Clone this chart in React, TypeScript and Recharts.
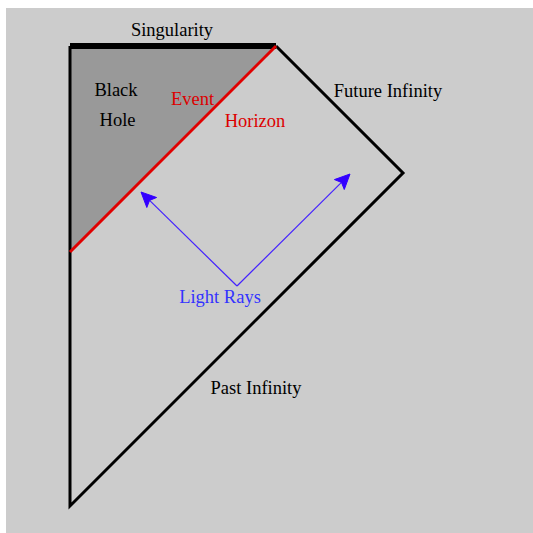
import React from 'react';
import { ComposedChart, Area, Line, XAxis, YAxis, ReferenceLine, ReferenceDot } from 'recharts';

// diagram units: origin at the bottom corner, y grows upward
const outline = [
  { x: 0, y: 46 },
  { x: 0, y: 0 },
  { x: 33.3, y: 33.3 },
  { x: 20.6, y: 46 },
];
const singularity = [{ x: 0, y: 46 }, { x: 20.6, y: 46 }];
const horizon = [{ x: 20.6, y: 46 }, { x: 0, y: 25.4 }];
const blackHole = [
  { x: 0, lo: 25.4, hi: 46 },
  { x: 20.6, lo: 46, hi: 46 },
];
const lightRays = [
  { from: { x: 16.7, y: 22.0 }, to: { x: 7.1, y: 31.4 } },
  { from: { x: 16.7, y: 22.0 }, to: { x: 28.0, y: 33.2 } },
];
const labels = [
  { text: 'Singularity', x: 10.2, y: 47.66, color: '#000000' },
  { text: 'Black', x: 4.6, y: 41.66, color: '#000000' },
  { text: 'Hole', x: 4.75, y: 38.66, color: '#000000' },
  { text: 'Event', x: 12.25, y: 40.73, color: '#dd0000' },
  { text: 'Horizon', x: 18.5, y: 38.53, color: '#dd0000' },
  { text: 'Future Infinity', x: 31.8, y: 41.6, color: '#000000' },
  { text: 'Light Rays', x: 15.0, y: 20.93, color: '#3333ff' },
  { text: 'Past Infinity', x: 18.6, y: 11.82, color: '#000000' },
];

const FONT = '"Liberation Serif", "Times New Roman", serif';
const RAY = '#3300ff';

// line with a filled arrowhead at its end
const Arrow = (props: any) => {
  const { x1, y1, x2, y2 } = props;
  const dx = x2 - x1;
  const dy = y2 - y1;
  const len = Math.sqrt(dx * dx + dy * dy) || 1;
  const ux = dx / len;
  const uy = dy / len;
  const L = 15;
  const W = 7;
  const N = 12;
  const bx = x2 - ux * L;
  const by = y2 - uy * L;
  const nx = x2 - ux * N;
  const ny = y2 - uy * N;
  const pts = [
    `${x2},${y2}`,
    `${bx - uy * W},${by + ux * W}`,
    `${nx},${ny}`,
    `${bx + uy * W},${by - ux * W}`,
  ].join(' ');
  return (
    <g>
      <line x1={x1} y1={y1} x2={nx} y2={ny} stroke="#4422ff" strokeWidth={1.2} />
      <polygon points={pts} fill={RAY} stroke={RAY} strokeWidth={1} strokeLinejoin="round" />
    </g>
  );
};

const App: React.FC = () => {
  return (
    <div style={{ position: 'absolute', left: 0, top: 0, width: 533, height: 533 }}>
      <div
        style={{ position: 'absolute', left: 6, top: 8, width: 527, height: 525, background: '#cccccc' }}
      />
      <div style={{ position: 'absolute', left: 0, top: 0 }}>
        <ComposedChart
          width={533}
          height={533}
          data={blackHole}
          margin={{ top: 0, right: 0, bottom: 0, left: 0 }}
          style={{ fontFamily: FONT }}
        >
          <XAxis type="number" dataKey="x" domain={[-7.0, 46.3]} allowDataOverflow hide />
          <YAxis type="number" domain={[-2.7, 50.6]} allowDataOverflow hide />
          <Area
            type="linear"
            dataKey={(d: any) => [d.lo, d.hi]}
            stroke="none"
            fill="#999999"
            fillOpacity={1}
            dot={false}
            activeDot={false}
            isAnimationActive={false}
          />
          <Line
            data={outline}
            dataKey="y"
            type="linear"
            stroke="#000000"
            strokeWidth={3}
            strokeLinejoin="miter"
            dot={false}
            activeDot={false}
            isAnimationActive={false}
          />
          <ReferenceLine
            segment={[singularity[0], singularity[1]]}
            stroke="#000000"
            strokeWidth={6}
          />
          <ReferenceLine
            segment={[horizon[0], horizon[1]]}
            stroke="#e00000"
            strokeWidth={3}
          />
          {lightRays.map((r, i) => (
            <ReferenceLine key={i} segment={[r.from, r.to]} shape={Arrow} />
          ))}
          {labels.map((l) => (
            <ReferenceDot
              key={l.text}
              x={l.x}
              y={l.y}
              r={0}
              fill="none"
              stroke="none"
              label={{
                value: l.text,
                position: 'center',
                fill: l.color,
                fontSize: 18.5,
                fontFamily: FONT,
              }}
            />
          ))}
        </ComposedChart>
      </div>
    </div>
  );
};

export default App;
